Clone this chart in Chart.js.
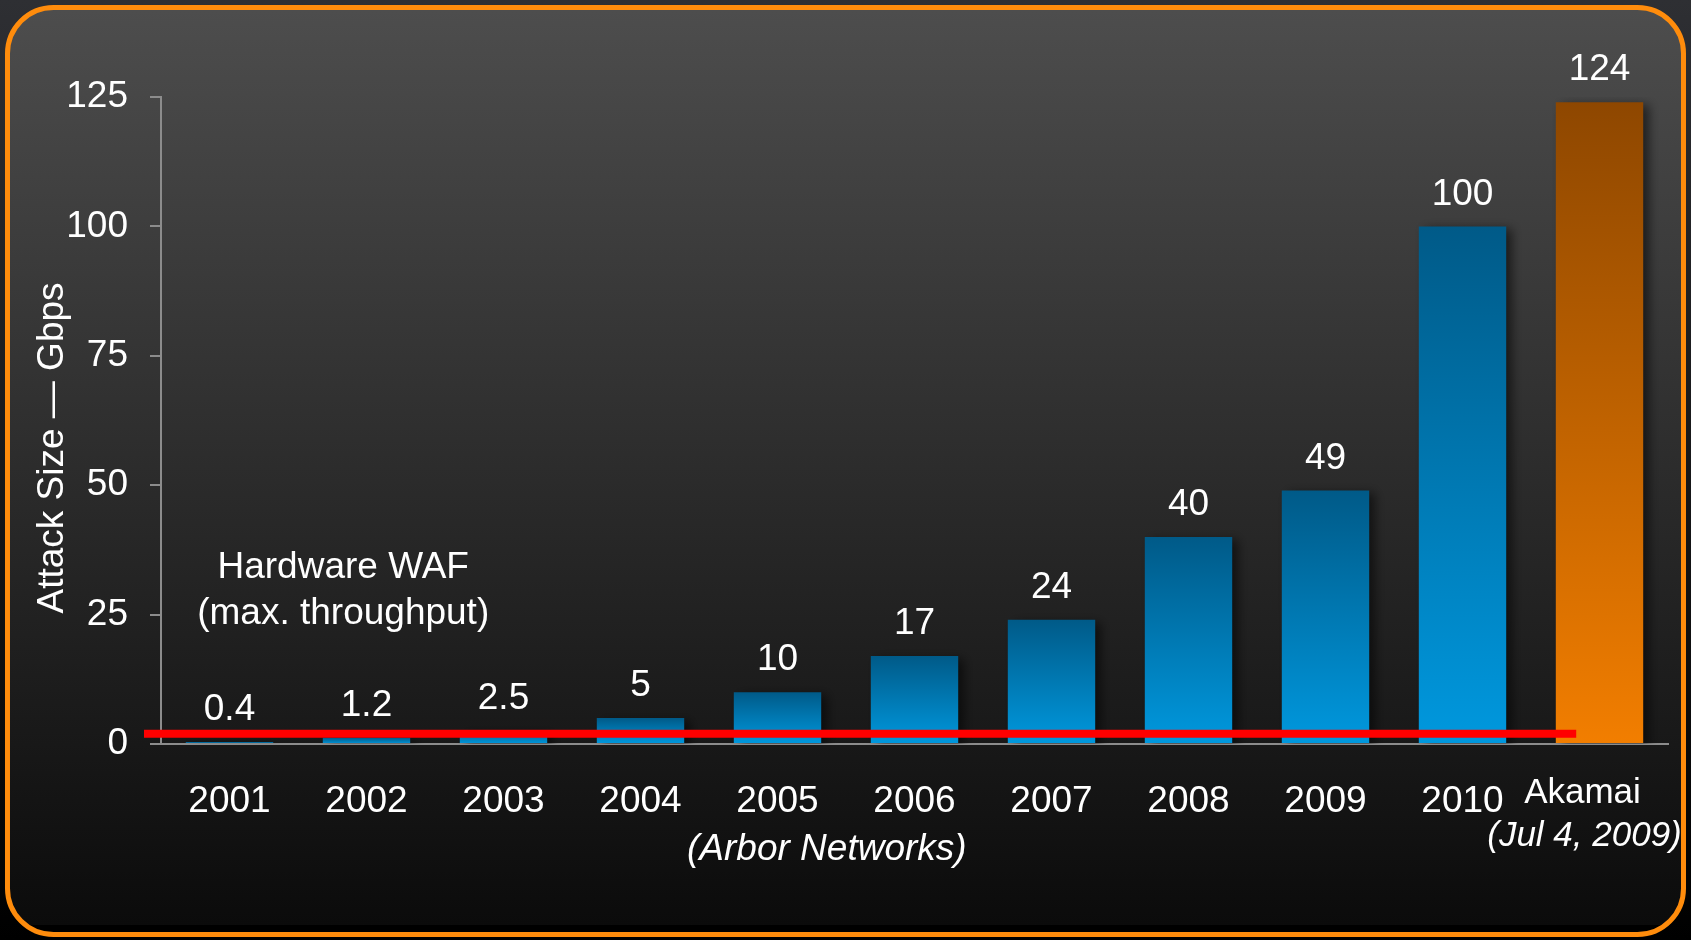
<!DOCTYPE html>
<html>
<head>
<meta charset="utf-8">
<title>DDoS attack size by year</title>
<script src="https://cdn.jsdelivr.net/npm/chart.js@4.4.1/dist/chart.umd.min.js"></script>
<style>
  html, body { margin: 0; padding: 0; background: #000; overflow: hidden; }
  #wrap { width: 1691px; height: 940px; }
</style>
</head>
<body>
<div id="wrap"><canvas id="attack-chart" width="1691" height="940"></canvas></div>
<script>
// Largest reported DDoS attack per year (Arbor Networks) + the Akamai
// event of Jul 4, 2009, against the throughput of a hardware WAF.
const categories = ["2001", "2002", "2003", "2004", "2005", "2006", "2007", "2008", "2009", "2010", "Akamai"];
const attackGbps = [0.4, 1.2, 2.5, 5, 10, 17, 24, 40, 49, 100, 124];
const valueLabels = ["0.4", "1.2", "2.5", "5", "10", "17", "24", "40", "49", "100", "124"];
const yTicks = [0, 25, 50, 75, 100, 125];
const wafLimitGbps = 2;

const FONT = "'Liberation Sans', Arial, sans-serif";

// Each bar gets its own top-dark / bottom-bright gradient, so short bars
// still show the full ramp. Last bar (Akamai) is orange.
function barFill(ctx) {
  const chart = ctx.chart;
  const area = chart.chartArea;
  const isAkamai = ctx.dataIndex === categories.length - 1;
  if (!area || ctx.type !== "data") return isAkamai ? "#f07c00" : "#0096dc";
  const top = chart.scales.y.getPixelForValue(ctx.raw);
  const g = chart.ctx.createLinearGradient(0, top, 0, area.bottom);
  if (isAkamai) {
    g.addColorStop(0, "#8e4700");
    g.addColorStop(1, "#f27e00");
  } else {
    g.addColorStop(0, "#005a88");
    g.addColorStop(1, "#0098de");
  }
  return g;
}

// Slide background: dark vertical gradient in a rounded orange frame.
const slideFrame = {
  id: "slideFrame",
  beforeDraw(chart) {
    const c = chart.ctx;
    const w = chart.width, h = chart.height;
    c.save();
    const outer = c.createLinearGradient(0, 0, 0, h);
    outer.addColorStop(0, "#2e2f33");
    outer.addColorStop(1, "#000000");
    c.fillStyle = outer;
    c.fillRect(0, 0, w, h);

    c.beginPath();
    c.roundRect(7.5, 7.5, w - 15, h - 13, 46);
    const inner = c.createLinearGradient(0, 10, 0, 925);
    inner.addColorStop(0, "#4d4d4d");
    inner.addColorStop(1, "#0b0b0b");
    c.fillStyle = inner;
    c.fill();
    c.save();
    c.clip();
    c.fillStyle = "#000";
    c.fillRect(0, 925, w, h - 925);
    c.restore();
    c.lineWidth = 5;
    c.strokeStyle = "#ff8c0c";
    c.stroke();
    c.restore();
  },
};

const barShadow = {
  id: "barShadow",
  beforeDatasetsDraw(chart) {
    const c = chart.ctx;
    c.save();
    c.shadowColor = "rgba(0,0,0,0.55)";
    c.shadowBlur = 10;
    c.shadowOffsetX = 6;
    c.shadowOffsetY = 3;
  },
  afterDatasetsDraw(chart) {
    chart.ctx.restore();
  },
};

// Value labels, the WAF line and the free text on the slide.
const annotations = {
  id: "annotations",
  afterDatasetsDraw(chart) {
    const c = chart.ctx;
    const x = chart.scales.x;
    const y = chart.scales.y;
    const area = chart.chartArea;
    const bars = chart.getDatasetMeta(0).data;

    c.save();
    c.fillStyle = "#ffffff";
    c.textAlign = "center";
    c.textBaseline = "middle";
    c.font = "37px " + FONT;
    bars.forEach((bar, i) => {
      c.fillText(valueLabels[i], bar.x, bar.y - 32);
    });

    // hardware WAF throughput
    const wy = y.getPixelForValue(wafLimitGbps);
    c.strokeStyle = "#ff0000";
    c.lineWidth = 8;
    c.beginPath();
    c.moveTo(area.left - 17, wy);
    c.lineTo(x.getPixelForValue(9.83), wy);
    c.stroke();

    const wafX = x.getPixelForValue(0.83);
    c.fillText("Hardware WAF", wafX, y.getPixelForValue(34));
    c.fillText("(max. throughput)", wafX, y.getPixelForValue(25.2));

    c.font = "italic 37px " + FONT;
    c.fillText("(Arbor Networks)", x.getPixelForValue(4.36), area.bottom + 106);

    const akX = x.getPixelForValue(categories.length - 1) - 17;
    c.font = "35px " + FONT;
    c.fillText("Akamai", akX, area.bottom + 49);
    c.font = "italic 35px " + FONT;
    c.fillText("(Jul 4, 2009)", akX + 2, area.bottom + 92);

    // y axis title, rotated
    c.translate(53, 448);
    c.rotate(-Math.PI / 2);
    c.font = "37px " + FONT;
    c.fillText("Attack Size \u2014 Gbps", 0, 0);
    c.restore();
  },
};

new Chart(document.getElementById("attack-chart"), {
  type: "bar",
  data: {
    labels: categories,
    datasets: [
      {
        label: "Attack size (Gbps)",
        data: attackGbps,
        backgroundColor: barFill,
        borderWidth: 0,
        categoryPercentage: 1,
        barPercentage: 0.638,
      },
    ],
  },
  options: {
    responsive: false,
    animation: false,
    layout: { padding: { left: 0, top: 97, right: 23, bottom: 0 } },
    plugins: {
      legend: { display: false },
      tooltip: { enabled: false },
    },
    scales: {
      x: {
        afterFit: (scale) => { scale.height = 196; },
        grid: { display: false },
        border: { display: true, color: "#8c8c8c", width: 2 },
        ticks: {
          color: "#ffffff",
          font: { family: FONT, size: 37 },
          padding: 28,
          maxRotation: 0,
          autoSkip: false,
          // the Akamai label is drawn by hand (two lines, mixed styles)
          callback: (value, i) => (i === categories.length - 1 ? "" : categories[i]),
        },
      },
      y: {
        min: 0,
        max: 125,
        afterFit: (scale) => { scale.width = 161; },
        afterBuildTicks: (scale) => { scale.ticks = yTicks.map((v) => ({ value: v })); },
        grid: { drawOnChartArea: false, color: "#8c8c8c", lineWidth: 2, tickLength: 11 },
        border: { display: true, color: "#8c8c8c", width: 2 },
        ticks: {
          color: "#ffffff",
          font: { family: FONT, size: 37 },
          padding: 22,
        },
      },
    },
  },
  plugins: [slideFrame, barShadow, annotations],
});
</script>
</body>
</html>
